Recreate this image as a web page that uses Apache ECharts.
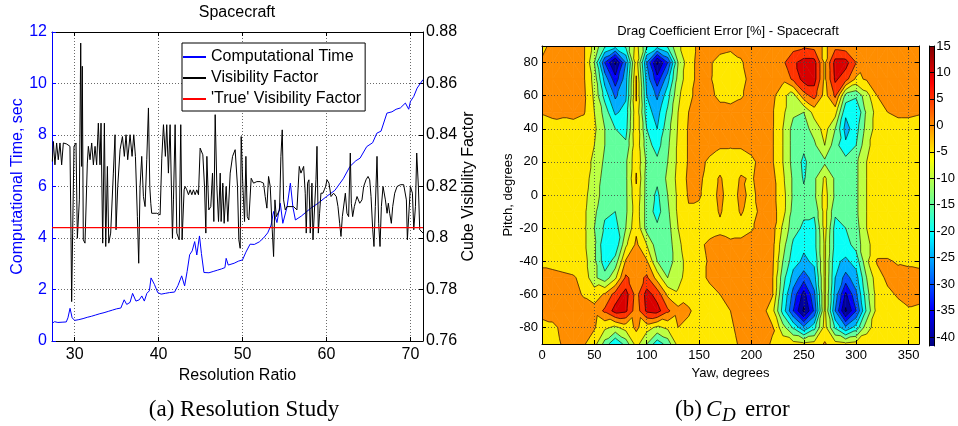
<!DOCTYPE html>
<html><head><meta charset="utf-8">
<script src="https://cdn.jsdelivr.net/npm/echarts@6.0.0/dist/echarts.min.js"></script>
<style>html,body{margin:0;padding:0;background:#fff}#c{width:958px;height:426px}</style>
</head><body><div id="c"></div>
<script>
// ---------- (a) Resolution study ----------
const resolutionTicks = [30, 40, 50, 60, 70];
const timeRatio = [27.3,27.6,28.0,28.5,29.0,29.2,29.45,29.7,30.0,30.5,31.0,31.5,32.0,32.5,33.0,33.5,34.0,34.5,35.0,35.5,35.9,36.2,36.6,36.9,37.3,37.7,38.0,38.3,38.6,38.9,39.1,39.5,39.9,40.3,40.8,41.3,41.9,42.3,42.75,43.1,43.4,43.7,44.0,44.3,44.55,44.87,45.1,45.4,46.0,46.5,47.0,47.5,47.9,48.05,48.3,49.0,49.5,50.0,50.4,50.9,51.4,52.0,52.5,53.0,53.4,53.7,54.1,54.5,54.8,55.3,55.7,56.0,56.3,57.0,58.1,59.0,60.0,61.0,62.0,62.8,63.5,64.0,64.8,65.5,66.0,66.5,67.2,67.8,68.3,68.8,69.4,69.8,70.0,70.4,70.8,71.5];
const computationalTime = [0.68,0.75,0.72,0.73,0.74,0.9,1.27,0.9,0.8,0.83,0.87,0.92,0.96,1.01,1.06,1.1,1.15,1.2,1.25,1.28,1.6,1.42,1.5,1.85,1.55,1.6,1.75,1.55,1.85,1.95,2.45,2.2,1.88,1.82,1.85,1.88,1.9,2.15,2.53,2.14,2.7,3.35,3.5,3.86,3.34,4.08,3.4,2.66,2.65,2.7,2.75,2.8,2.85,3.21,2.95,3.02,3.1,3.15,3.45,3.76,3.75,3.85,4.0,4.2,4.5,5.03,4.6,5.35,4.57,5.2,6.13,5.2,4.7,4.85,5.15,5.35,5.61,5.85,6.3,6.78,7.0,7.1,7.55,7.7,8.07,8.15,8.85,8.9,9.0,9.05,9.24,9.0,9.3,9.5,9.82,10.15];
const visRatio = [27.34,27.46,27.65,27.85,28.05,28.25,28.45,28.65,28.85,29.05,29.44,29.56,29.64,29.76,29.92,30.16,30.32,30.56,30.72,30.83,30.91,31.03,31.23,31.51,31.63,31.83,32.03,32.23,32.43,32.62,32.82,33.02,33.14,33.34,33.54,33.70,33.90,34.06,34.29,34.61,34.81,34.93,35.13,35.41,35.69,35.92,36.12,36.32,36.60,36.84,37.04,37.24,37.47,37.63,37.79,37.99,38.19,38.39,38.59,38.79,38.95,39.07,39.18,39.78,40.18,40.38,40.58,40.81,40.97,41.17,41.37,41.65,41.77,41.97,42.17,42.45,42.64,42.80,43.04,43.16,43.36,43.56,43.76,43.96,44.15,44.35,44.55,44.75,44.83,44.95,45.27,45.47,45.63,45.75,45.98,46.22,46.42,46.58,46.74,46.94,47.14,47.34,47.45,47.65,47.81,48.05,48.25,48.53,48.81,49.12,49.40,49.56,49.72,49.84,50.04,50.24,50.40,50.56,50.75,51.03,51.31,51.51,51.71,51.91,52.11,52.31,52.50,52.70,52.90,53.10,53.30,53.54,53.70,53.86,54.02,54.17,54.41,54.57,54.73,54.89,55.09,55.29,56.08,56.48,56.76,56.96,57.12,57.28,57.47,57.59,57.75,57.91,58.07,58.27,58.39,58.55,58.75,58.87,59.03,59.18,59.34,59.58,59.74,59.90,60.06,60.30,60.54,60.85,61.17,61.37,61.57,61.73,61.89,62.05,62.25,62.44,62.64,62.84,62.96,63.12,63.32,63.48,63.64,63.80,63.96,64.23,64.43,64.71,64.95,65.15,65.31,65.51,65.66,65.82,66.02,66.22,66.38,66.54,66.74,67.02,67.22,67.37,67.53,67.73,67.89,68.13,68.41,68.81,69.20,69.40,69.52,69.64,69.84,70.00,70.24,70.40,70.60,70.75,70.95,71.11,71.27,71.51];
const visibilityFactor = [.8297,.8375,.8284,.8369,.8304,.8369,.8284,.8369,.8369,.8365,.8356,.8019,.7753,.8019,.8356,.8369,.7999,.8148,.8757,.8278,.8667,.7993,.7980,.8291,.8356,.8304,.8369,.8284,.8356,.8284,.8446,.8284,.8446,.7980,.8446,.7967,.8278,.7980,.8019,.8252,.8401,.8032,.8200,.8343,.8394,.8317,.8401,.8304,.8401,.8317,.8401,.8317,.8083,.7902,.8200,.8317,.8161,.8122,.8304,.8505,.8200,.8135,.8096,.8096,.8090,.8310,.8440,.8317,.8440,.8252,.8440,.7999,.8148,.8440,.8019,.7993,.8440,.7993,.8187,.8200,.8187,.8168,.8187,.8168,.8187,.8168,.8187,.8168,.8174,.8349,.8323,.8200,.8019,.8317,.8109,.8122,.8252,.8064,.8479,.8200,.8064,.8252,.8064,.8213,.8057,.8200,.8064,.8252,.8317,.8343,.8200,.7993,.7960,.8394,.8200,.8064,.8317,.8083,.8070,.8232,.8213,.8219,.8219,.8213,.8219,.8226,.8213,.8161,.8116,.8239,.8200,.8032,.7928,.8148,.8083,.8083,.8109,.8317,.8420,.8148,.8109,.8122,.8122,.8109,.8278,.8252,.8252,.8278,.8174,.8019,.8213,.8226,.8019,.8213,.7993,.7993,.8226,.8356,.8019,.8096,.8174,.8174,.8187,.8200,.8226,.8213,.8161,.8174,.8161,.8122,.8057,.8006,.8083,.8083,.8174,.8096,.8083,.8330,.8135,.8083,.8122,.8142,.8161,.8148,.8135,.8148,.8200,.8226,.8239,.8226,.8161,.8032,.7967,.8122,.8317,.8057,.7967,.8122,.8200,.8148,.8096,.8135,.8096,.8057,.8122,.8174,.8200,.8207,.8207,.8200,.8148,.7993,.8109,.8200,.8174,.8032,.8122,.8330,.8200,.8032,.8032,.8019];
const trueVisibilityFactor = 0.804;

// ---------- (b) Drag coefficient error [%] ----------
const yawValues = [0,10,20,30,40,50,60,70,80,90,100,110,120,130,140,150,160,170,180,190,200,210,220,230,240,250,260,270,280,290,300,310,320,330,340,350,360];
const pitchValues = [90,80,70,60,50,40,30,20,10,0,-10,-20,-30,-40,-50,-60,-70,-80,-90];
const cdError = [
 [-1,1,2,2,0.5,-7,-14,-18,-14,-3,-14,-18,-14,-6,-2,1,2,1.5,1,1.5,2,2,2,2,3,4,3,-1,3,2,1,0.5,1,1.5,1.5,1.5,1],
 [0.5,2,2.5,2,0.5,-10,-30,-41,-25,-2,-25,-41,-30,-10,-2,1.5,0.5,-1.5,-2,-0.5,2,2.5,3,4,9,12,12,-1,12,12,5,1.5,1.5,2,2,2,2],
 [2,2.5,2.5,2,0.5,-7,-22,-33,-22,0.5,-22,-33,-22,-8,-2,1.5,0.5,-2,-2.5,-1.5,1.5,2.5,2.5,1.5,6,12,12,-1,11,7,-1,0.5,1.5,2,2,2,2],
 [2,2,2.5,2,1,-6,-17,-26,-21,0.5,-20,-26,-17,-6,-1,1.5,1,-1,-1.5,-0.5,1.5,2,1.5,-4,-7,3,7,-2,6,-12,-14,-7,0,1.5,2,2,2],
 [0.5,1.5,1,1.5,0.5,-5,-12,-21,-18,-1,-18,-22,-14,-5,0,1.5,1.5,1.5,1.5,2,2,2,0.5,-4,-9,-10,-3,-2,-3,-19,-20,-9,-3,0,1,1,0.5],
 [-2.5,-2.5,-2,-2,-2.5,-4,-10,-15,-17,-1,-15,-20,-12,-4.5,0.5,2,1.5,1,1.5,2,2,2,0.5,-5,-12,-12,-8,-3,-10,-22,-17,-8,-3,-2.5,-2,-2,-2.5],
 [-2.5,-2.5,-2.5,-2.5,-3,-5,-10,-13,-14,-1.5,-13,-17,-11,-4,0.5,2,2,0.5,0.5,0.5,1.5,2,0.5,-5,-12,-14,-11,-5,-13,-19,-15,-6,-3,-2.5,-2.5,-2.5,-2.5],
 [-2.5,-2.5,-2.5,-2.5,-3,-6,-11,-12,-11,-1,-11,-14,-10,-4,0.5,1.5,-1,-2,-2.5,-2,-1,1.5,0.5,-5,-12,-16,-12,-11,-13,-13,-11,-5,-3,-2.5,-2.5,-2.5,-2.5],
 [-2.5,-2.5,-2.5,-2.5,-3,-7,-12,-13,-11,0.5,-12,-14,-9,-3.5,1,1,-2,0.5,-2.5,0.5,-0.5,2,1.5,-4,-11,-15.5,-11,-4,-11,-13,-11,-5,-3,-2.5,-2.5,-2.5,-2.5],
 [-2.5,-2.5,-2.5,-2.5,-3.5,-8,-12,-13,-11,-1,-12,-16,-10,-4,0.5,0.5,-2,1,-2,1,-1,1.5,1.5,-3,-11,-14,-11,-3,-11,-13,-11,-5,-3,-2.5,-2.5,-2.5,-2.5],
 [-2.5,-2.5,-2.5,-2.5,-4,-9,-14,-15,-11,-2,-12,-17,-11,-4,-0.5,-1,-2.5,0.5,-2.5,0.5,-2,1.5,2,-3,-12,-14,-14,-3,-14,-13,-11,-5,-3,-2.5,-2.5,-2.5,-2.5],
 [-2.5,-2.5,-2.5,-2.5,-4,-10,-16,-17,-10,-1,-12,-14,-12,-5,-2.5,-1,-2,-1,-2,-1.5,-0.5,1.5,2,-6,-13,-16,-17,-3,-17,-15,-12,-5,-3,-2.5,-2.5,-2.5,-2.5],
 [-2,-2.5,-2.5,-2.5,-4,-9,-19,-19,-6,1,-5,-13,-13,-6,-2.5,-1,1,1.5,1,1,2,2,1.5,-8,-16,-19,-17,-4,-17,-17,-13,-6,-3,-2.5,-2.5,-2.5,-2.5],
 [-1,-1.5,-2,-2.5,-3,-9,-18,-13,0.5,1.5,0.5,-10,-13,-7,-3,-1.5,0.5,2,2,2,2,2,1,-10,-18,-21,-19,-4,-19,-21,-18,-6,0.5,0.5,-0.5,-1,-1.5],
 [1.5,1.5,1,0.5,-1.5,-9,-13,-6,6,2.5,6,-2,-10,-7,-2,-1,0.5,1.5,2,2,2,2,0.5,-13,-22,-28,-22,-4,-20,-27,-22,-10,-2,1,1.5,2,2],
 [2,2,2,1.5,-0.5,-2,0.5,7,12,3,12,8,-1,-4,-1.5,-1.5,-1,0,1,2,2,2,0.5,-15,-27,-37,-26,-4,-22,-36,-26,-12,-3,-1,0.5,1.5,1.5],
 [2,2,2.5,2.5,2,1.5,6,12,11,2,11,12,6,1.5,0.5,-1.5,-2,-1.5,0,1.5,2,2,-3,-17,-30,-41,-29,-4,-25,-41,-30,-14,-3,-2,-1.5,-0.5,-1],
 [-2,-1,1,1.5,1.5,0.5,-4,-6,-3,1,-3,-6,-4,0,-1,-2,-2.5,-2,-0.5,1,2,2,0.5,-8,-16,-24,-17,-3,-16,-24,-18,-7,-2.5,-2.5,-2.5,-2.5,-2.5],
 [-2.5,-2,0.5,1,0.5,-3,-12,-20,-13,-3,-10,-18,-13,-3,-1.5,-2,-2.5,-2.5,-1,0.5,1.5,1.5,-0.5,-2,-3,-4,-3,0.5,-3,-4,-3,-2,-2.5,-2.5,-2.5,-2.5,-2.5]
];
const yawTicks = [0, 50, 100, 150, 200, 250, 300, 350];
const pitchTicks = [-80, -60, -40, -20, 0, 20, 40, 60, 80];
const contourLevels = [-40, -35, -30, -25, -20, -15, -10, -5, 0, 5, 10, 15];
const colorbarTicks = [-40, -35, -30, -25, -20, -15, -10, -5, 0, 5, 10, 15];
const colorLimits = [-41.7, 15];

// ---------- helpers ----------
const FONT = '"Liberation Sans", Arial, Helvetica, sans-serif';
const SERIF = '"Liberation Serif", "Times New Roman", serif';
const dotted = {type: [1, 2], color: '#444', width: 0.8};
const zip = (xs, ys) => xs.map((x, i) => [x, ys[i]]);

function jet(t) {
  t = Math.max(0, Math.min(1, t));
  const c = x => Math.round(255 * Math.max(0, Math.min(1, x)));
  return 'rgb(' + c(Math.min(4 * t - 1.5, -4 * t + 4.5)) + ',' + c(Math.min(4 * t - 0.5, -4 * t + 3.5)) + ',' + c(Math.min(4 * t + 0.5, -4 * t + 2.5)) + ')';
}
function levelColor(L) {
  return jet((Math.max(L, colorLimits[0]) - colorLimits[0]) / (colorLimits[1] - colorLimits[0]));
}
function clipPoly(poly, L, keepAbove) {
  const out = [];
  for (let i = 0; i < poly.length; i++) {
    const a = poly[i], b = poly[(i + 1) % poly.length];
    const ain = keepAbove ? a.v >= L : a.v < L;
    const bin = keepAbove ? b.v >= L : b.v < L;
    if (ain) out.push(a);
    if (ain !== bin) {
      const t = (L - a.v) / (b.v - a.v);
      out.push({x: a.x + t * (b.x - a.x), y: a.y + t * (b.y - a.y), v: L});
    }
  }
  return out;
}
function cellTriangles(idx) {
  const nc = yawValues.length;
  const r = Math.floor(idx / nc), c = idx % nc;
  if (r >= pitchValues.length - 1 || c >= nc - 1) return null;
  const P = (rr, cc) => ({x: yawValues[cc], y: pitchValues[rr], v: cdError[rr][cc]});
  const a = P(r, c), b = P(r, c + 1), d = P(r + 1, c + 1), e = P(r + 1, c);
  return Math.abs(a.v - d.v) <= Math.abs(b.v - e.v) ? [[a, b, d], [a, d, e]] : [[a, b, e], [b, d, e]];
}
function renderFill(params, api) {
  const tris = cellTriangles(params.dataIndex);
  if (!tris) return null;
  const children = [];
  tris.forEach(tri => {
    const vs = tri.map(p => p.v);
    const lo = Math.floor(Math.min(...vs) / 5) * 5, hi = Math.floor(Math.max(...vs) / 5) * 5;
    for (let L = lo; L <= hi; L += 5) {
      let poly = clipPoly(tri, L, true);
      if (poly.length < 3) continue;
      poly = clipPoly(poly, L + 5, false);
      if (poly.length < 3) continue;
      const col = levelColor(L);
      children.push({type: 'polygon', shape: {points: poly.map(p => api.coord([p.x, p.y]))}, style: {fill: col, stroke: col, lineWidth: 0.7}});
    }
  });
  return {type: 'group', children};
}
function renderLines(params, api) {
  const tris = cellTriangles(params.dataIndex);
  if (!tris) return null;
  const children = [];
  tris.forEach(tri => {
    contourLevels.forEach(L => {
      const pts = [];
      for (let i = 0; i < 3; i++) {
        const a = tri[i], b = tri[(i + 1) % 3];
        if ((a.v >= L) !== (b.v >= L)) {
          const t = (L - a.v) / (b.v - a.v);
          pts.push(api.coord([a.x + t * (b.x - a.x), a.y + t * (b.y - a.y)]));
        }
      }
      if (pts.length === 2) children.push({type: 'line', shape: {x1: pts[0][0], y1: pts[0][1], x2: pts[1][0], y2: pts[1][1]}, style: {stroke: '#000', lineWidth: 0.6}});
    });
  });
  return {type: 'group', children};
}
const gridPoints = [];
pitchValues.forEach((p, r) => yawValues.forEach((y, c) => gridPoints.push([y, p, cdError[r][c]])));

const jetStops = [];
for (let i = 0; i <= 32; i++) jetStops.push({offset: i / 32, color: jet(i / 32)});

const blackLine = {show: true, onZero: false, lineStyle: {color: '#000', width: 1}};
const txt = (size, color) => ({color: color || '#000', fontSize: size, fontFamily: FONT});

const chart = echarts.init(document.getElementById('c'), null, {renderer: 'canvas', width: 958, height: 426});
chart.setOption({
  animation: false,
  backgroundColor: '#fff',
  grid: [
    {left: 52, top: 32, width: 371, height: 309},
    {left: 542, top: 46, width: 377, height: 298},
    {left: 929, top: 46, width: 11, height: 300}
  ],
  legend: {
    data: ['Computational Time', 'Visibility Factor', "'True' Visibility Factor"],
    orient: 'vertical', left: 182, top: 43, itemWidth: 23, itemHeight: 2, itemGap: 5, icon: 'rect',
    padding: [6, 4, 4, 1], backgroundColor: '#fff', borderColor: '#000', borderWidth: 1, borderRadius: 0,
    textStyle: {fontSize: 16, fontFamily: FONT, color: '#000', lineHeight: 16}, selectedMode: false
  },
  xAxis: [
    {gridIndex: 0, type: 'value', min: 27.3, max: 71.5, position: 'bottom', axisLine: blackLine,
     axisTick: {inside: true, length: 4, customValues: resolutionTicks, lineStyle: {color: '#000'}},
     axisLabel: Object.assign({customValues: resolutionTicks, margin: 6}, txt(16)),
     splitLine: {show: true, lineStyle: dotted},
     name: 'Resolution Ratio', nameLocation: 'middle', nameGap: 26, nameTextStyle: txt(16)},
    {gridIndex: 0, type: 'value', min: 27.3, max: 71.5, position: 'top', axisLine: blackLine,
     axisTick: {inside: true, length: 4, customValues: resolutionTicks, lineStyle: {color: '#000'}},
     axisLabel: {show: false}, splitLine: {show: false}},
    {gridIndex: 1, type: 'value', min: 0, max: 360, position: 'bottom', z: 5, axisLine: blackLine,
     axisTick: {inside: true, length: 4, customValues: yawTicks, lineStyle: {color: '#000'}},
     axisLabel: Object.assign({customValues: yawTicks, margin: 5}, txt(13)),
     splitLine: {show: true, lineStyle: dotted},
     name: 'Yaw, degrees', nameLocation: 'middle', nameGap: 20, nameTextStyle: txt(13)},
    {gridIndex: 1, type: 'value', min: 0, max: 360, position: 'top', z: 5, axisLine: blackLine,
     axisTick: {inside: true, length: 4, customValues: yawTicks, lineStyle: {color: '#000'}},
     axisLabel: {show: false}, splitLine: {show: false}},
    {gridIndex: 2, type: 'value', min: 0, max: 1, show: false}
  ],
  yAxis: [
    {gridIndex: 0, type: 'value', min: 0, max: 12, interval: 2, position: 'left',
     axisLine: {show: true, onZero: false, lineStyle: {color: '#0000ff', width: 1}},
     axisTick: {show: true, inside: true, length: 4, lineStyle: {color: '#0000ff'}},
     axisLabel: Object.assign({margin: 5}, txt(16, '#0000ff')),
     splitLine: {show: true, lineStyle: dotted},
     name: 'Computational Time, sec', nameLocation: 'middle', nameGap: 26, nameTextStyle: txt(16, '#0000ff')},
    {gridIndex: 0, type: 'value', min: 0.76, max: 0.88, interval: 0.02, position: 'right', axisLine: blackLine,
     axisTick: {show: true, inside: true, length: 4, lineStyle: {color: '#000'}},
     axisLabel: Object.assign({margin: 3}, txt(16)), splitLine: {show: false},
     name: 'Cube Visibility Factor', nameLocation: 'middle', nameGap: 38, nameTextStyle: txt(16)},
    {gridIndex: 1, type: 'value', min: -90, max: 90, position: 'left', z: 5, axisLine: blackLine,
     axisTick: {inside: true, length: 4, customValues: pitchTicks, lineStyle: {color: '#000'}},
     axisLabel: Object.assign({customValues: pitchTicks, margin: 4}, txt(13)),
     splitLine: {show: true, lineStyle: dotted},
     name: 'Pitch, degrees', nameLocation: 'middle', nameGap: 26, nameTextStyle: txt(13)},
    {gridIndex: 1, type: 'value', min: -90, max: 90, position: 'right', z: 5, axisLine: blackLine,
     axisTick: {inside: true, length: 4, customValues: pitchTicks, lineStyle: {color: '#000'}},
     axisLabel: {show: false}, splitLine: {show: false}},
    {gridIndex: 2, type: 'value', min: colorLimits[0], max: colorLimits[1], position: 'right', z: 5, axisLine: blackLine,
     axisTick: {inside: true, length: 3, customValues: colorbarTicks, lineStyle: {color: '#000'}},
     axisLabel: Object.assign({customValues: colorbarTicks, margin: 2}, txt(13)), splitLine: {show: false}},
    {gridIndex: 2, type: 'value', min: colorLimits[0], max: colorLimits[1], position: 'left', z: 5, axisLine: blackLine,
     axisTick: {inside: true, length: 3, customValues: colorbarTicks, lineStyle: {color: '#000'}},
     axisLabel: {show: false}, splitLine: {show: false}}
  ],
  series: [
    {type: 'line', name: 'Computational Time', xAxisIndex: 0, yAxisIndex: 0, data: zip(timeRatio, computationalTime),
     symbol: 'none', lineStyle: {color: '#0000ff', width: 1}, itemStyle: {color: '#0000ff'}, z: 3},
    {type: 'line', name: 'Visibility Factor', xAxisIndex: 0, yAxisIndex: 1, data: zip(visRatio, visibilityFactor),
     symbol: 'none', lineStyle: {color: '#000', width: 1}, itemStyle: {color: '#000'}, z: 3},
    {type: 'line', name: "'True' Visibility Factor", xAxisIndex: 0, yAxisIndex: 1,
     data: [[27.3, trueVisibilityFactor], [71.5, trueVisibilityFactor]],
     symbol: 'none', lineStyle: {color: '#ff0000', width: 1.3}, itemStyle: {color: '#ff0000'}, z: 4},
    {type: 'custom', name: 'cdFill', xAxisIndex: 2, yAxisIndex: 2, data: gridPoints, encode: {x: 0, y: 1},
     renderItem: renderFill, clip: true, silent: true, z: 1},
    {type: 'custom', name: 'cdLines', xAxisIndex: 2, yAxisIndex: 2, data: gridPoints, encode: {x: 0, y: 1},
     renderItem: renderLines, clip: true, silent: true, z: 2},
    {type: 'custom', name: 'colorbar', xAxisIndex: 4, yAxisIndex: 4, data: [[0, colorLimits[0], colorLimits[1]]],
     encode: {x: 0, y: [1, 2]}, silent: true, z: 1,
     renderItem: function (params, api) {
       const p0 = api.coord([0, api.value(1)]), p1 = api.coord([1, api.value(2)]);
       return {type: 'rect', shape: {x: p0[0], y: p1[1], width: p1[0] - p0[0], height: p0[1] - p1[1]},
               style: {fill: new echarts.graphic.LinearGradient(0, 1, 0, 0, jetStops)}};
     }}
  ],
  graphic: [
    {type: 'text', x: 237, y: 13, style: {text: 'Spacecraft', font: '16px ' + FONT, fill: '#000', textAlign: 'center', textVerticalAlign: 'middle'}},
    {type: 'text', x: 728, y: 31, style: {text: 'Drag Coefficient Error [%] - Spacecraft', font: '13px ' + FONT, fill: '#000', textAlign: 'center', textVerticalAlign: 'middle'}},
    {type: 'text', x: 244, y: 410, style: {text: '(a) Resolution Study', font: '23px ' + SERIF, fill: '#000', textAlign: 'center', textVerticalAlign: 'middle'}},
    {type: 'text', x: 675, y: 410, style: {text: '(b)', font: '23px ' + SERIF, fill: '#000', textAlign: 'left', textVerticalAlign: 'middle'}},
    {type: 'text', x: 706, y: 410, style: {text: 'C', font: 'italic 23px ' + SERIF, fill: '#000', textAlign: 'left', textVerticalAlign: 'middle'}},
    {type: 'text', x: 722, y: 416, style: {text: 'D', font: 'italic 19px ' + SERIF, fill: '#000', textAlign: 'left', textVerticalAlign: 'middle'}},
    {type: 'text', x: 745, y: 410, style: {text: 'error', font: '23px ' + SERIF, fill: '#000', textAlign: 'left', textVerticalAlign: 'middle'}}
  ]
});
</script></body></html>
